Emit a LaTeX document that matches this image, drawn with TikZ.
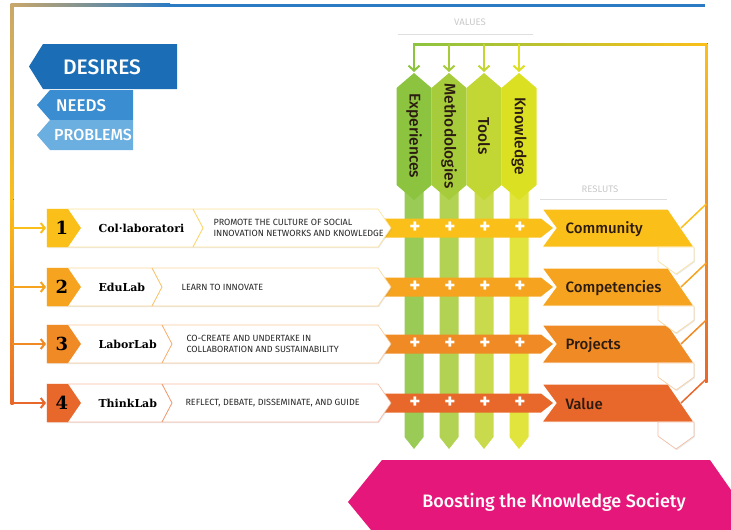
\documentclass[tikz,border=0pt]{standalone}
\usepackage{fontspec}
\setmainfont{Fira Sans}
\newfontfamily\medfont{Fira Sans Medium}
\newfontfamily\slabfont{DejaVu Serif}
\usetikzlibrary{arrows.meta,shadows}
\newcommand{\fsz}[1]{\fontsize{#1pt}{#1pt}\selectfont}

\definecolor{deepblue}{HTML}{1B6DB5}
\definecolor{midblue}{HTML}{3A8DD0}
\definecolor{paleblue}{HTML}{6BAEE0}
\definecolor{lineblue}{HTML}{2A7BC4}
\definecolor{tanline}{HTML}{C9A76A}
\definecolor{rowA}{HTML}{FBBF1A}
\definecolor{rowB}{HTML}{F6A41F}
\definecolor{rowC}{HTML}{F08A24}
\definecolor{rowD}{HTML}{E8672A}
\definecolor{valA}{HTML}{8CC43F}
\definecolor{valB}{HTML}{A6CC3B}
\definecolor{valC}{HTML}{C2D634}
\definecolor{valD}{HTML}{DCE022}
\definecolor{boost}{HTML}{E5177A}
\definecolor{labelgray}{HTML}{C8C8C8}
\definecolor{darktext}{HTML}{2B1B10}

\begin{document}
\begin{tikzpicture}[x=1pt,y=-1pt,
    feed/.style={line width=2pt,-{Straight Barb[length=5pt,width=11pt]}},
    inarrow/.style={line width=2pt,-{Straight Barb[length=4pt,width=10pt]}},
    labbox/.style={fill=white,draw=#1!45,line width=0.6pt,
        drop shadow={opacity=0.18,shadow xshift=0.8pt,shadow yshift=-1.2pt}},
    plus/.style={text=white,font=\bfseries\fsz{21},inner sep=0pt},
    gray label/.style={text=labelgray,font=\fsz{9.5}}]
\useasboundingbox (0,0) rectangle (731,530);

% frame lines
\fill[left color=tanline,right color=lineblue] (11,3.5) rectangle (170,6.5);
\fill[lineblue] (169,3.5) rectangle (705,6.5);
\fill[top color=tanline,bottom color=rowA] (10.5,3.5) rectangle (13.5,200);
\fill[top color=rowA,bottom color=rowD] (10.5,199) rectangle (13.5,404.2);

% desires, needs, problems
\fill[deepblue] (43,44) -- (177,44) -- (177,89) -- (43,89) -- (29,66.5) -- cycle;
\fill[midblue] (50,90) -- (133,90) -- (133,120) -- (50,120) -- (37,105) -- cycle;
\fill[paleblue] (50,120) -- (133,120) -- (133,150) -- (50,150) -- (37,135) -- cycle;
\node[text=white,font=\medfont\fsz{21}] (desires) at (102,67) {DESIRES};
\node[text=white,font=\medfont\fsz{17},anchor=west,inner sep=0pt] (needs) at (56,106) {NEEDS};
\node[text=white,font=\medfont\fsz{16},anchor=west,inner sep=0pt] (problems) at (54,135) {PROBLEMS};

% headings
\node[gray label] (values) at (470,22) {VALUES};
\draw[labelgray!60,line width=1pt] (398,34) -- (533,34);
\node[gray label] (results) at (600,189) {RESLUTS};
\draw[labelgray!60,line width=1pt] (540,199) -- (667,199);

% feedback line back to the values
\fill[left color=valA,right color=rowA] (413,43) rectangle (707.5,45.5);
\fill[top color=rowA,bottom color=rowD] (705,43) rectangle (707.5,382);

% value columns
\foreach \i/\x/\c/\name in {1/414/valA/Experiences,2/449/valB/Methodologies,3/484/valC/Tools,4/519/valD/Knowledge}{
  \fill[\c!88] (\x-9.5,190) -- (\x+9.5,190) -- (\x+9.5,437) -- (\x,449) -- (\x-9.5,437) -- cycle;
  \fill[\c] (\x-17.5,88) -- (\x,73) -- (\x+17.5,88) -- (\x+17.5,185) -- (\x,200) -- (\x-17.5,185) -- cycle;
  \node[rotate=-90,text=darktext,font=\medfont\fsz{15.5}] (val\i) at (\x,136) {\name};
  \coordinate (drop\i) at (\x,44);
  \coordinate (top\i) at (\x,72);
  \draw[feed,\c] (drop\i) -- (top\i);
}

% labs and results
\foreach \i/\y/\c/\lab/\chev/\dx/\desc/\res in {
    1/228/rowA/Col·laboratori/193/210/{PROMOTE THE CULTURE OF SOCIAL\\INNOVATION NETWORKS AND KNOWLEDGE}/Community,
    2/287/rowB/EduLab/152/178/{LEARN TO INNOVATE}/Competencies,
    3/344/rowC/LaborLab/162/183/{CO-CREATE AND UNDERTAKE IN\\COLLABORATION AND SUSTAINABILITY}/Projects,
    4/403/rowD/ThinkLab/162/182/{REFLECT, DEBATE, DISSEMINATE, AND GUIDE}/Value}{
  \coordinate (in\i) at (12,\y);
  \coordinate (box\i) at (46,\y);
  \draw[inarrow,\c] (in\i) -- (box\i);
  \fill[\c] (378,\y-9.5) -- (541,\y-9.5) -- (553,\y) -- (541,\y+9.5) -- (378,\y+9.5) -- cycle;
  \foreach \px in {415,450,485,520}
    \node[plus] (plus\i-\px) at (\px,\y) {+};
  \path[labbox=\c] (47,\y-19) -- (378,\y-19) -- (391,\y) -- (378,\y+19) -- (47,\y+19) -- cycle;
  \fill[\c] (47,\y-19) -- (68,\y-19) -- (81,\y) -- (68,\y+19) -- (47,\y+19) -- cycle;
  \draw[\c!70,line width=0.8pt] (\chev,\y-19) -- (\chev+10,\y) -- (\chev,\y+19);
  \node[font=\slabfont\bfseries\fsz{18},text=black] (num\i) at (62,\y) {\i};
  \node[anchor=west,font=\slabfont\bfseries\fsz{11},text=black] (lab\i) at (95,\y) {\lab};
  \node[anchor=west,align=left,font=\fontsize{9}{11}\selectfont,text=black!85] (desc\i) at (\dx,\y) {\desc};
  \fill[\c,draw=white,line width=1pt] (542,\y-19) -- (668,\y-19) -- (694,\y+19) -- (542,\y+19) -- (556,\y) -- cycle;
  \node[anchor=west,font=\medfont\fsz{15},text=darktext] (res\i) at (562,\y+1) {\res};
}

% folded ends and links up to the feedback line
\foreach \i/\y/\c in {1/228/rowA,2/287/rowB,3/344/rowC,4/403/rowD}{
  \path[labbox=\c] (658,\y+19) -- (694,\y+19) -- (694,\y+33) -- (676,\y+46) -- (658,\y+33) -- cycle;
  \coordinate (fold\i) at (681,\y);
  \coordinate (back\i) at (706.25,\y-24);
  \draw[\c,line width=1.5pt] (fold\i) -- (back\i);
}

% banner
\fill[boost] (382,460) -- (710,460) -- (731,490) -- (731,530) -- (371,530) -- (348,502) -- cycle;
\node[text=white,font=\medfont\fsz{18}] (boosting) at (554,502) {Boosting the Knowledge Society};
\end{tikzpicture}
\end{document}
